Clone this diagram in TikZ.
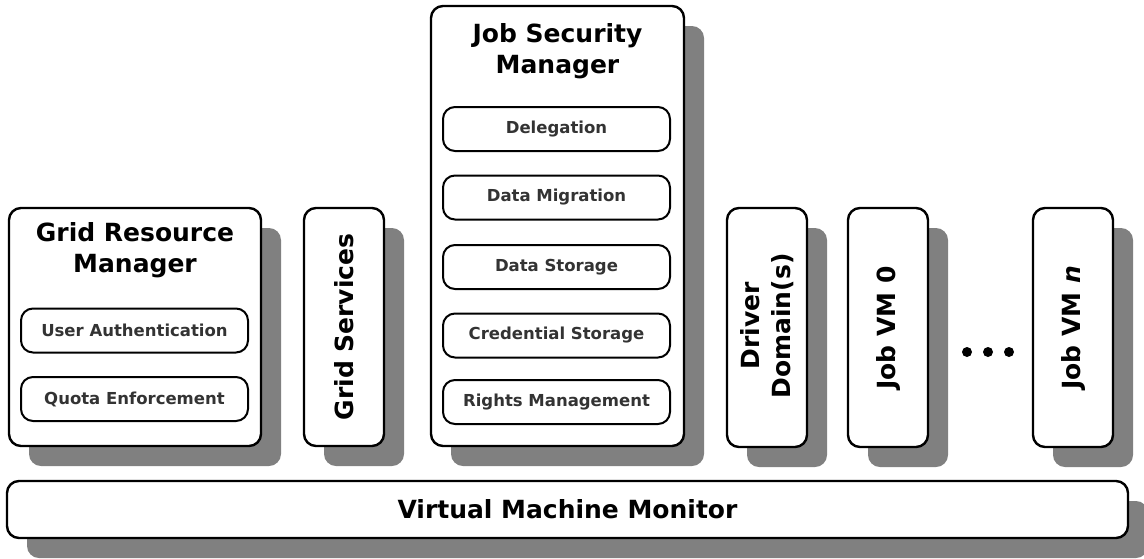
\documentclass[tikz,border=0pt]{standalone}
\usepackage{fontspec}
\setmainfont{DejaVu Sans}
\usetikzlibrary{shadows}

\newlength{\du}
\setlength{\du}{1pt}
\definecolor{shadowgray}{rgb}{0.500000, 0.500000, 0.500000}
\definecolor{labelgray}{rgb}{0.200000, 0.200000, 0.200000}

\tikzset{
  bigbox/.style={draw=black, fill=white, line width=2.4\du, rounded corners=12\du, inner sep=0pt,
    drop shadow={shadow xshift=20\du, shadow yshift=-20\du, fill=shadowgray, opacity=1}},
  partbox/.style={draw=black, fill=white, line width=2\du, rounded corners=12\du, inner sep=0pt,
    minimum width=227\du, minimum height=44\du, text=labelgray, font=\fontsize{16.5}{20}\selectfont\bfseries},
  boxtitle/.style={align=center, inner sep=0pt, font=\fontsize{25}{31}\selectfont\bfseries},
  sidetitle/.style={boxtitle, rotate=90},
  vmdot/.style={circle, fill=black, inner sep=0pt, minimum size=10\du}
}

\begin{document}
\begin{tikzpicture}[yscale=-1]
\useasboundingbox (0\du,0\du) rectangle (1144\du,558\du);
% hypervisor
\node[bigbox, minimum width=1121\du, minimum height=57\du] (vmm) at (567.5\du,509.5\du) {};
\node[boxtitle] (vmmlabel) at (vmm.center) {Virtual Machine Monitor};
% grid resource manager
\node[bigbox, minimum width=252\du, minimum height=238\du] (grm) at (135\du,327\du) {};
\node[boxtitle, anchor=north] (grmlabel) at (135\du,222\du) {Grid Resource\\Manager};
\node[partbox] (auth) at (134.5\du,330.5\du) {User Authentication};
\node[partbox] (quota) at (134.5\du,399\du) {Quota Enforcement};
% grid services
\node[bigbox, minimum width=80\du, minimum height=238\du] (gs) at (344\du,327\du) {};
\node[sidetitle] (gslabel) at (gs.center) {Grid Services};
% job security manager
\node[bigbox, minimum width=253\du, minimum height=440\du] (jsm) at (557.5\du,226\du) {};
\node[boxtitle, anchor=north] (jsmlabel) at (557.5\du,23\du) {Job Security\\Manager};
\node[partbox] (deleg) at (556.5\du,129\du) {Delegation};
\node[partbox] (migr) at (556.5\du,197.5\du) {Data Migration};
\node[partbox] (store) at (556.5\du,267\du) {Data Storage};
\node[partbox] (cred) at (556.5\du,335.5\du) {Credential Storage};
\node[partbox] (rights) at (556.5\du,402\du) {Rights Management};
% driver domain and job vms
\node[bigbox, minimum width=80\du, minimum height=239\du] (dd) at (767\du,327.5\du) {};
\node[sidetitle] (ddlabel) at (767\du,326\du) {Driver\\Domain(s)};
\node[bigbox, minimum width=80\du, minimum height=239\du] (vm0) at (888\du,327.5\du) {};
\node[sidetitle] (vm0label) at (888\du,328\du) {Job VM 0};
\node[bigbox, minimum width=80\du, minimum height=239\du] (vmn) at (1073\du,327.5\du) {};
\node[sidetitle] (vmnlabel) at (1073\du,328\du) {Job VM \textit{n}};
\node[vmdot] (dot1) at (967\du,352\du) {};
\node[vmdot] (dot2) at (988\du,352\du) {};
\node[vmdot] (dot3) at (1009\du,352\du) {};
\end{tikzpicture}
\end{document}
